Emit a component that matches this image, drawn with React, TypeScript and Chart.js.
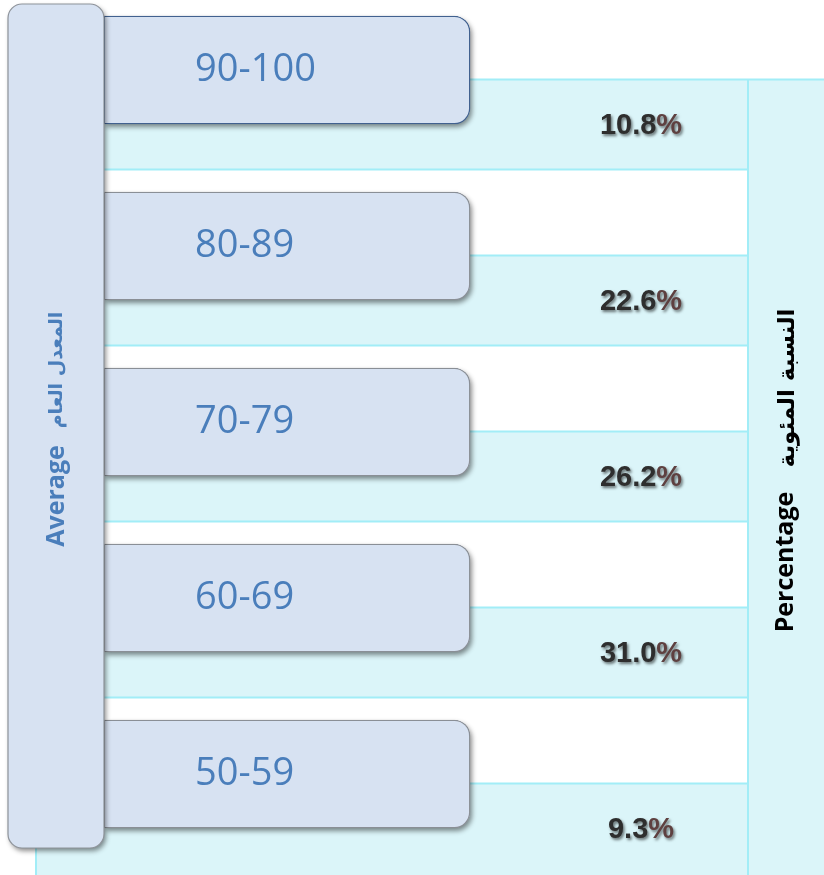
import React, { useEffect, useRef } from "react";
import { Chart, registerables } from "chart.js";

Chart.register(...registerables);

// ---- data ----
const CATEGORIES = ["90-100", "80-89", "70-79", "60-69", "50-59"];
const PERCENTAGES = [10.8, 22.6, 26.2, 31.0, 9.3];
const LEFT_TITLE_EN = "Average";
const LEFT_TITLE_AR = "المعدل العام";
const RIGHT_TITLE_EN = "Percentage";
const RIGHT_TITLE_AR = "النسبة المئوية";

// ---- layout / style constants ----
const W = 824;
const H = 875;
const PLOT_LEFT = 104;
const PLOT_RIGHT = 748;
const PANEL_LEFT = 36;
const BOX_END = ((470 - PLOT_LEFT) / (PLOT_RIGHT - PLOT_LEFT)) * 100;
const BAND_OFFSET = 9.5;
const BAND_H = 90;
const CYAN = "#dbf5f9";
const CYAN_LINE = "#a2edf7";
const BOX_FILL = "#d7e2f2";
const BLUE_TEXT = "#4a7ebb";

function setShadow(ctx: CanvasRenderingContext2D) {
  ctx.shadowColor = "rgba(0,0,0,0.45)";
  ctx.shadowBlur = 5;
  ctx.shadowOffsetX = 2;
  ctx.shadowOffsetY = 3;
}

const decorPlugin = {
  id: "decor",
  beforeDatasetsDraw(chart: any) {
    const { ctx } = chart;
    const y = chart.scales.y;
    const tops = CATEGORIES.map((_, i) => y.getPixelForValue(i) + BAND_OFFSET);
    ctx.save();
    // right column
    ctx.fillStyle = CYAN;
    ctx.fillRect(PLOT_RIGHT, tops[0], W - PLOT_RIGHT, H - tops[0]);
    // bands
    tops.forEach((t, i) => {
      ctx.fillStyle = CYAN;
      const h = i === tops.length - 1 ? H - t : BAND_H;
      ctx.fillRect(PANEL_LEFT, t, PLOT_RIGHT - PANEL_LEFT, h);
    });
    ctx.strokeStyle = CYAN_LINE;
    ctx.lineWidth = 2;
    ctx.beginPath();
    tops.forEach((t, i) => {
      ctx.moveTo(PANEL_LEFT, t);
      ctx.lineTo(i === 0 ? W : PLOT_RIGHT, t);
      if (i < tops.length - 1) {
        ctx.moveTo(PANEL_LEFT, t + BAND_H);
        ctx.lineTo(PLOT_RIGHT, t + BAND_H);
      }
    });
    ctx.moveTo(PLOT_RIGHT, tops[0]);
    ctx.lineTo(PLOT_RIGHT, H);
    ctx.moveTo(PANEL_LEFT, tops[0]);
    ctx.lineTo(PANEL_LEFT, H);
    ctx.stroke();
    ctx.restore();

    // drop shadows under the bars (bar elements clip their own drawing)
    const meta = chart.getDatasetMeta(0);
    ctx.save();
    setShadow(ctx);
    ctx.fillStyle = BOX_FILL;
    meta.data.forEach((el: any) => {
      const p = el.getProps(["x", "y", "base", "height"], true);
      const left = Math.min(p.x, p.base);
      const w = Math.abs(p.x - p.base);
      ctx.beginPath();
      ctx.roundRect(left, p.y - p.height / 2, w, p.height, [0, 16, 16, 0]);
      ctx.fill();
    });
    ctx.restore();
  },
  afterDatasetsDraw(chart: any) {
    const { ctx } = chart;
    const y = chart.scales.y;
    const meta = chart.getDatasetMeta(0);
    ctx.save();
    // pillar
    ctx.save();
    setShadow(ctx);
    ctx.beginPath();
    ctx.roundRect(8, 4, 96, 844, 14);
    ctx.fillStyle = BOX_FILL;
    ctx.fill();
    ctx.restore();
    ctx.beginPath();
    ctx.roundRect(8, 4, 96, 844, 14);
    ctx.strokeStyle = "#8e939a";
    ctx.lineWidth = 1.2;
    ctx.stroke();

    // pillar titles
    ctx.fillStyle = BLUE_TEXT;
    ctx.textAlign = "center";
    ctx.textBaseline = "middle";
    ctx.save();
    ctx.translate(57, 496);
    ctx.rotate(-Math.PI / 2);
    ctx.font = 'bold 25px "Open Sans"';
    ctx.fillText(LEFT_TITLE_EN, 0, 0);
    ctx.restore();
    ctx.save();
    ctx.translate(57, 370);
    ctx.rotate(-Math.PI / 2);
    ctx.font = 'bold 19px "DejaVu Sans"';
    ctx.fillText(LEFT_TITLE_AR, 0, 0);
    ctx.restore();

    // right titles
    ctx.fillStyle = "#000000";
    ctx.save();
    ctx.translate(786, 562);
    ctx.rotate(-Math.PI / 2);
    ctx.font = 'bold 25px "Open Sans"';
    ctx.fillText(RIGHT_TITLE_EN, 0, 0);
    ctx.restore();
    ctx.save();
    ctx.translate(788, 388);
    ctx.rotate(-Math.PI / 2);
    ctx.font = 'bold 23px "DejaVu Sans"';
    ctx.fillText(RIGHT_TITLE_AR, 0, 0);
    ctx.restore();

    // box labels
    ctx.textAlign = "left";
    ctx.font = '38px "Open Sans"';
    ctx.fillStyle = BLUE_TEXT;
    meta.data.forEach((el: any, i: number) => {
      ctx.fillText(CATEGORIES[i], 195, el.y);
    });

    // percentage labels
    ctx.font = 'bold 29px "Liberation Sans"';
    PERCENTAGES.forEach((v, i) => {
      const cy = y.getPixelForValue(i) + BAND_OFFSET + BAND_H / 2 + 1;
      const num = v.toFixed(1);
      const wNum = ctx.measureText(num).width;
      const wPct = ctx.measureText("%").width;
      const x0 = 641 - (wNum + wPct) / 2;
      ctx.save();
      ctx.shadowColor = "rgba(0,0,0,0.55)";
      ctx.shadowBlur = 3;
      ctx.shadowOffsetX = 1.5;
      ctx.shadowOffsetY = 2;
      ctx.textAlign = "left";
      ctx.fillStyle = "#2e2e2e";
      ctx.fillText(num, x0, cy);
      ctx.fillStyle = "#5e4040";
      ctx.fillText("%", x0 + wNum, cy);
      ctx.restore();
    });
    ctx.restore();
  },
};

export default function App() {
  const ref = useRef<HTMLCanvasElement>(null);
  useEffect(() => {
    if (!ref.current) return;
    const chart = new Chart(ref.current, {
      type: "bar",
      data: {
        labels: CATEGORIES,
        datasets: [
          {
            label: "Average",
            data: CATEGORIES.map(() => [0, BOX_END]) as any,
            backgroundColor: BOX_FILL,
            borderColor: CATEGORIES.map((_, i) => (i === 0 ? "#41618f" : "#8a8f96")),
            borderWidth: 1.3,
            borderSkipped: false,
            borderRadius: { topLeft: 0, bottomLeft: 0, topRight: 16, bottomRight: 16 },
            barThickness: 108,
            clip: false as any,
          },
        ],
      },
      options: {
        indexAxis: "y",
        responsive: false,
        animation: false,
        layout: {
          padding: { left: PLOT_LEFT, right: W - PLOT_RIGHT, top: 70, bottom: H - 774 },
        },
        scales: {
          x: { type: "linear", min: 0, max: 100, display: false },
          y: { type: "category", offset: false, display: false, grid: { display: false } },
        },
        plugins: {
          legend: { display: false },
          tooltip: { enabled: false },
          title: { display: false },
        },
      },
      plugins: [decorPlugin],
    });
    return () => chart.destroy();
  }, []);
  return (
    <div style={{ position: "absolute", left: 0, top: 0, width: W, height: H, background: "#fff" }}>
      <canvas ref={ref} width={W} height={H} style={{ display: "block" }} />
    </div>
  );
}
